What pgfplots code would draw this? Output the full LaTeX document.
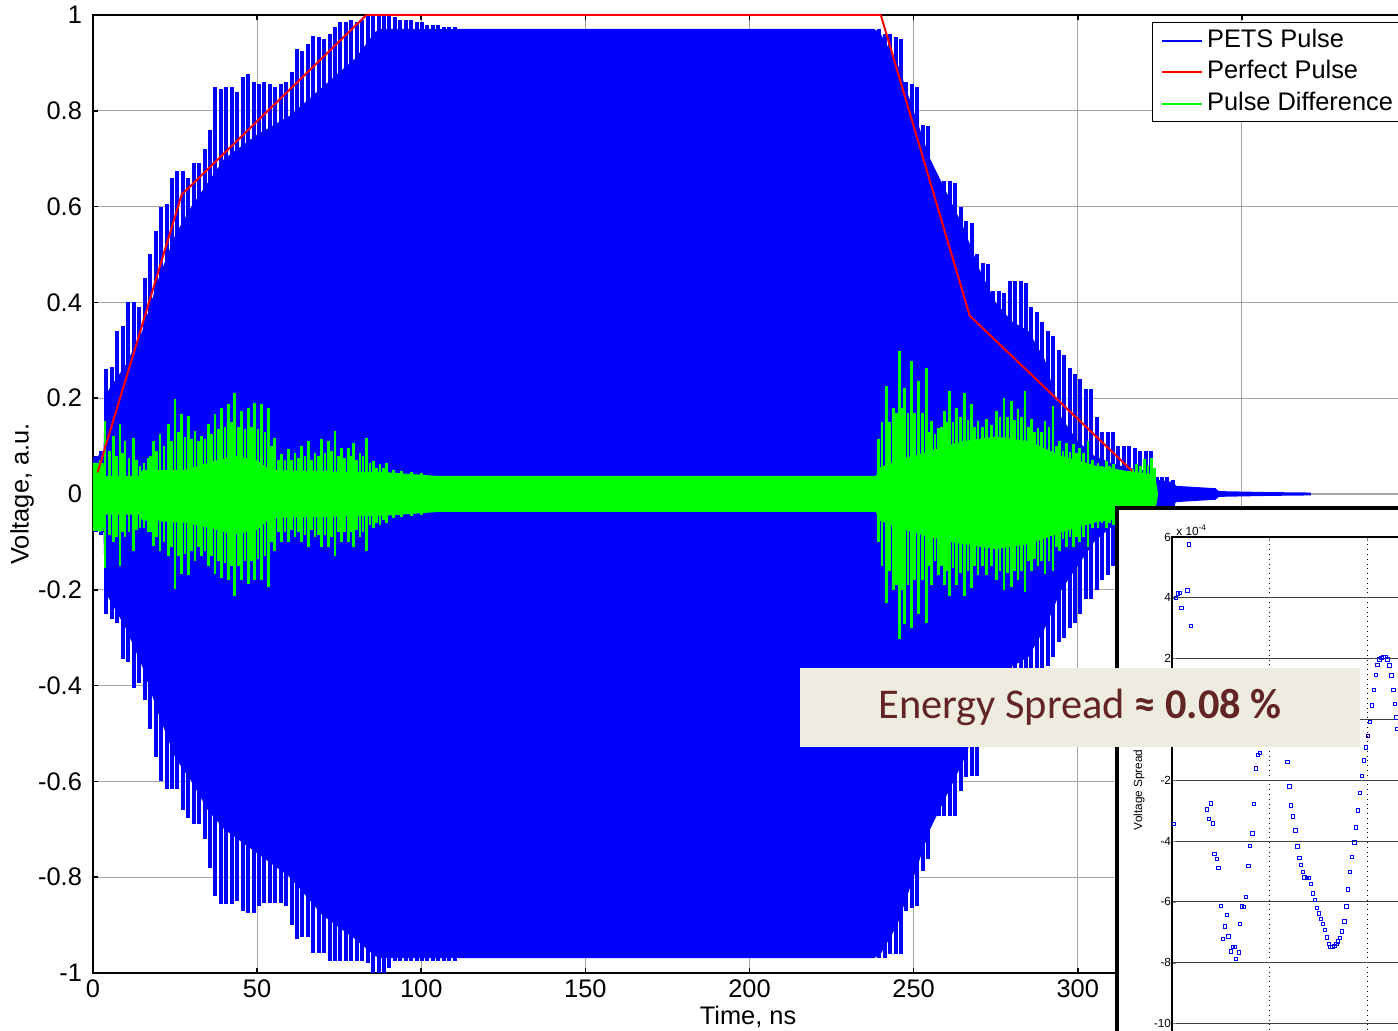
\documentclass[border=0pt]{standalone}
\usepackage{pgfplots}
\pgfplotsset{compat=1.18}
\usepackage{pgfplotstable}
\usepackage{fontspec}
\setmainfont{Liberation Sans}
\newfontfamily\carlito{Carlito}
\definecolor{boxbg}{RGB}{238,235,225}
\definecolor{boxtx}{RGB}{99,37,35}
\newcommand\mainfs{\fontsize{12.7}{15.2}\selectfont}
\newcommand\insfs{\fontsize{5.9}{7}\selectfont}

% blue body envelope
\pgfplotstableread{
x t b
0 0.075 -0.075
3.2 0.085 -0.08
3.6 0.20 -0.20
5 0.22 -0.22
10 0.27 -0.28
15 0.34 -0.36
20 0.45 -0.46
25 0.54 -0.55
30 0.60 -0.60
35 0.65 -0.66
40 0.70 -0.70
50 0.75 -0.75
60 0.79 -0.80
70 0.85 -0.88
80 0.91 -0.93
86 0.965 -0.965
88 0.971 -0.969
238 0.971 -0.969
240 0.96 -0.96
245 0.90 -0.90
250 0.80 -0.80
255 0.70 -0.70
260 0.63 -0.63
265 0.56 -0.56
270 0.47 -0.47
275 0.40 -0.40
280 0.36 -0.36
285 0.34 -0.34
290 0.28 -0.28
295 0.16 -0.20
300 0.11 -0.15
305 0.08 -0.10
310 0.065 -0.07
315 0.055 -0.055
320 0.05 -0.05
323.5 0.045 -0.045
324 0.03 -0.03
329 0.025 -0.025
330 0.017 -0.017
342 0.012 -0.012
343 0.006 -0.006
358 0.004 -0.004
371 0.003 -0.003
}\bbody

% blue spikes
\pgfplotstableread{
x t b
0.8 0.08 -0.08
2.5 0.09 -0.085
4.1 0.26 -0.25
5.8 0.265 -0.26
7.4 0.34 -0.27
9.1 0.35 -0.345
10.8 0.40 -0.35
12.4 0.40 -0.405
14.1 0.39 -0.395
15.7 0.45 -0.43
17.4 0.50 -0.49
19.1 0.55 -0.55
20.7 0.60 -0.60
22.4 0.605 -0.615
24.0 0.66 -0.615
25.7 0.674 -0.616
27.4 0.674 -0.66
29.0 0.66 -0.676
30.7 0.69 -0.69
32.3 0.69 -0.69
34.0 0.72 -0.72
35.6 0.76 -0.78
37.3 0.85 -0.84
39.0 0.845 -0.855
40.6 0.85 -0.857
42.3 0.85 -0.857
43.9 0.84 -0.85
45.6 0.87 -0.87
47.2 0.877 -0.874
48.9 0.86 -0.874
50.6 0.855 -0.86
52.2 0.86 -0.853
53.9 0.855 -0.853
55.5 0.85 -0.853
57.2 0.855 -0.853
58.8 0.86 -0.86
60.5 0.88 -0.90
62.1 0.93 -0.93
63.8 0.925 -0.925
65.5 0.94 -0.925
67.1 0.956 -0.958
68.8 0.955 -0.958
70.4 0.95 -0.958
72.1 0.96 -0.975
73.7 0.975 -0.975
75.4 0.985 -0.975
77.1 0.985 -0.975
78.7 0.99 -0.975
80.4 0.985 -0.975
82.0 0.99 -0.975
83.7 1.0 -0.98
85.3 1.0 -0.999
87.0 1.0 -0.999
88.7 1.0 -0.999
90.3 1.0 -0.99
92.0 0.995 -0.975
93.6 0.99 -0.975
95.3 0.99 -0.975
97.0 0.99 -0.975
98.6 0.985 -0.975
100.3 0.985 -0.975
101.9 0.98 -0.975
103.6 0.98 -0.975
105.2 0.98 -0.975
106.9 0.975 -0.975
108.6 0.975 -0.975
110.2 0.975 -0.975
239.5 0.971 -0.968
241.2 0.96 -0.968
242.8 0.96 -0.96
244.5 0.955 -0.96
246.1 0.95 -0.96
247.8 0.86 -0.871
249.5 0.856 -0.865
251.1 0.85 -0.86
252.8 0.77 -0.787
254.4 0.768 -0.763
256.1 0.66 -0.672
257.7 0.653 -0.672
259.4 0.653 -0.672
261.0 0.653 -0.672
262.7 0.65 -0.672
264.4 0.60 -0.62
266.0 0.57 -0.59
267.7 0.566 -0.589
269.3 0.50 -0.589
271.0 0.482 -0.50
272.6 0.48 -0.48
274.3 0.424 -0.43
275.9 0.424 -0.43
277.6 0.42 -0.42
279.3 0.445 -0.45
280.9 0.445 -0.45
282.6 0.445 -0.45
284.2 0.44 -0.44
285.9 0.39 -0.40
287.5 0.38 -0.38
289.2 0.36 -0.37
290.8 0.34 -0.36
292.5 0.33 -0.34
294.2 0.30 -0.31
295.8 0.29 -0.30
297.5 0.263 -0.28
299.1 0.25 -0.27
300.8 0.24 -0.25
302.4 0.22 -0.22
304.1 0.22 -0.22
305.8 0.16 -0.20
307.4 0.13 -0.18
309.1 0.13 -0.17
310.7 0.13 -0.15
312.4 0.10 -0.12
314.0 0.10 -0.11
315.7 0.10 -0.11
317.3 0.095 -0.10
319.0 0.09 -0.09
320.7 0.09 -0.09
322.3 0.09 -0.09
324.0 0.035 -0.035
325.6 0.035 -0.035
327.3 0.035 -0.035
328.9 0.03 -0.03
}\bspk

% green body envelope
\pgfplotstableread{
x t b
0 0.065 -0.077
3.2 0.065 -0.077
3.6 0.038 -0.043
14 0.038 -0.043
15 0.05 -0.055
28 0.05 -0.06
35 0.065 -0.07
43 0.08 -0.085
50 0.07 -0.075
54 0.05 -0.05
90 0.045 -0.045
105 0.0376 -0.0376
238.5 0.0376 -0.0376
239.5 0.055 -0.055
245 0.07 -0.07
255 0.09 -0.09
265 0.11 -0.105
275 0.12 -0.115
285 0.11 -0.105
295 0.08 -0.08
305 0.06 -0.06
315 0.048 -0.048
323.5 0.04 -0.04
324.5 0.0 0.0
}\gbody

% green spikes (tall)
\pgfplotstableread{
x t b
0.6 0.065 -0.077
3.65 0.152 -0.154
6.2 0.121 -0.10
8.2 0.146 -0.15
9.75 0.11 -0.09
12.3 0.117 -0.119
14.3 0.058 -0.07
16.8 0.075 -0.08
18.4 0.11 -0.108
20.4 0.125 -0.12
22.9 0.146 -0.13
25.0 0.198 -0.199
27.0 0.167 -0.167
29.0 0.163 -0.17
31.1 0.131 -0.14
33.1 0.121 -0.13
35.1 0.146 -0.15
37.2 0.167 -0.167
39.2 0.18 -0.175
41.2 0.188 -0.18
43.2 0.211 -0.213
45.3 0.173 -0.18
47.3 0.18 -0.188
49.3 0.19 -0.18
51.4 0.188 -0.18
53.4 0.18 -0.195
55.4 0.117 -0.12
57.5 0.083 -0.10
59.5 0.094 -0.10
61.5 0.086 -0.09
63.6 0.10 -0.10
65.6 0.11 -0.11
67.6 0.086 -0.09
69.7 0.115 -0.11
71.7 0.11 -0.11
73.7 0.131 -0.13
75.7 0.096 -0.10
77.8 0.096 -0.10
79.3 0.107 -0.11
81.3 0.086 -0.09
83.4 0.117 -0.119
85.4 0.069 -0.07
87.4 0.062 -0.065
89.5 0.065 -0.06
239.2 0.115 -0.10
241.7 0.225 -0.227
243.8 0.18 -0.20
245.8 0.299 -0.303
247.3 0.222 -0.272
249.3 0.278 -0.28
251.4 0.236 -0.25
253.9 0.263 -0.27
255.4 0.152 -0.19
257.5 0.138 -0.17
259.5 0.173 -0.19
261.0 0.215 -0.213
263.1 0.18 -0.19
265.6 0.211 -0.213
267.6 0.188 -0.196
269.6 0.152 -0.17
272.2 0.156 -0.17
275.2 0.173 -0.18
277.5 0.20 -0.20
279.8 0.194 -0.195
281.8 0.177 -0.18
283.9 0.215 -0.205
285.9 0.156 -0.16
287.9 0.138 -0.15
290.0 0.152 -0.168
292.5 0.184 -0.16
294.5 0.11 -0.12
296.6 0.107 -0.11
298.6 0.104 -0.11
300.6 0.097 -0.10
303.1 0.11 -0.11
306.2 0.065 -0.07
308.7 0.069 -0.07
310.8 0.062 -0.065
313.3 0.048 -0.05
315.8 0.048 -0.05
317.9 0.062 -0.06
320.4 0.073 -0.07
322.4 0.076 -0.07
}\gspk

% green spikes (intermediate, lower)
\pgfplotstableread{
x t b
2.1 0.07 -0.08
5.0 0.09 -0.085
7.2 0.08 -0.09
9.0 0.085 -0.08
11.0 0.075 -0.08
13.3 0.07 -0.075
15.5 0.065 -0.07
17.6 0.08 -0.08
19.4 0.09 -0.09
21.6 0.10 -0.10
24.0 0.11 -0.11
26.0 0.13 -0.13
28.0 0.12 -0.125
30.0 0.115 -0.12
32.1 0.11 -0.11
34.1 0.115 -0.12
36.2 0.125 -0.13
38.2 0.135 -0.14
40.2 0.14 -0.145
42.2 0.15 -0.15
44.3 0.14 -0.15
46.3 0.135 -0.14
48.3 0.14 -0.14
50.3 0.135 -0.135
52.4 0.13 -0.13
54.4 0.10 -0.10
56.5 0.07 -0.08
58.5 0.07 -0.08
60.5 0.07 -0.075
62.5 0.075 -0.08
64.6 0.08 -0.085
66.6 0.07 -0.075
68.7 0.08 -0.085
70.7 0.085 -0.085
72.7 0.09 -0.09
74.7 0.08 -0.08
76.7 0.075 -0.08
78.5 0.08 -0.08
80.3 0.07 -0.075
82.3 0.08 -0.08
84.4 0.065 -0.065
86.4 0.055 -0.06
88.4 0.055 -0.055
91.5 0.05 -0.05
94.0 0.048 -0.048
97.0 0.045 -0.045
100.0 0.043 -0.043
240.4 0.15 -0.15
242.7 0.15 -0.16
244.8 0.17 -0.19
246.5 0.18 -0.20
248.3 0.17 -0.19
250.3 0.17 -0.18
252.6 0.17 -0.18
254.6 0.13 -0.15
256.5 0.125 -0.14
258.5 0.14 -0.15
260.2 0.15 -0.16
262.0 0.15 -0.155
264.3 0.16 -0.165
266.6 0.155 -0.16
268.6 0.14 -0.15
270.9 0.14 -0.15
273.7 0.145 -0.15
276.3 0.16 -0.16
278.6 0.16 -0.165
280.8 0.155 -0.16
282.8 0.16 -0.16
284.9 0.14 -0.14
286.9 0.13 -0.135
289.0 0.13 -0.14
291.2 0.14 -0.14
293.5 0.10 -0.11
295.5 0.09 -0.095
297.6 0.088 -0.09
299.6 0.085 -0.09
301.8 0.085 -0.09
304.6 0.07 -0.07
307.4 0.058 -0.06
309.7 0.058 -0.06
312.0 0.052 -0.055
314.5 0.045 -0.048
316.8 0.052 -0.052
319.1 0.058 -0.058
321.4 0.06 -0.06
323.4 0.055 -0.05
}\gspkb

% inset: voltage spread (x 1e-4)
\pgfplotstableread{
u v
0.020 -3.43
0.041 3.99
0.058 4.15
0.082 4.17
0.096 3.67
0.157 4.24
0.174 5.76
0.195 3.07
0.355 -2.95
0.379 -3.27
0.396 -2.76
0.420 -3.42
0.433 -4.42
0.457 -4.59
0.474 -4.87
0.498 -6.12
0.522 -7.21
0.539 -6.80
0.560 -6.42
0.577 -7.13
0.601 -7.62
0.621 -7.48
0.645 -7.48
0.655 -7.88
0.683 -7.66
0.696 -6.72
0.717 -6.14
0.734 -6.17
0.758 -5.83
0.782 -4.82
0.799 -4.16
0.823 -3.74
0.836 -2.77
0.860 -1.61
0.877 -1.16
0.901 -1.10
1.164 -0.81
1.181 -1.40
1.201 -2.20
1.218 -2.82
1.239 -3.19
1.263 -3.64
1.283 -4.17
1.304 -4.56
1.321 -4.79
1.341 -5.02
1.355 -5.19
1.379 -5.21
1.403 -5.21
1.423 -5.40
1.440 -5.72
1.461 -5.93
1.481 -6.20
1.505 -6.38
1.526 -6.56
1.546 -6.72
1.567 -6.91
1.584 -7.17
1.604 -7.37
1.621 -7.48
1.642 -7.48
1.662 -7.45
1.683 -7.37
1.700 -7.29
1.720 -7.19
1.741 -6.97
1.765 -6.64
1.785 -6.14
1.802 -5.58
1.823 -5.02
1.843 -4.52
1.867 -4.04
1.884 -3.55
1.904 -2.99
1.922 -2.42
1.945 -1.85
1.962 -1.34
1.983 -0.92
2.003 -0.54
2.027 -0.07
2.048 0.46
2.065 0.98
2.085 1.46
2.102 1.79
2.123 1.97
2.143 2.03
2.164 2.05
2.184 2.05
2.205 1.97
2.225 1.78
2.246 1.45
2.266 0.98
2.283 0.51
2.297 0.07
2.307 -0.31
}\inset

\begin{document}
\begin{tikzpicture}
\begin{axis}[
  at={(0pt,0pt)}, anchor=south west,
  width=656.5pt, height=479pt, scale only axis,
  xmin=0, xmax=400, ymin=-1, ymax=1,
  xtick={0,50,100,150,200,250,300,350,400},
  ytick={-1,-0.8,-0.6,-0.4,-0.2,0,0.2,0.4,0.6,0.8,1},
  grid=major, major grid style={black!35, line width=0.6pt},
  tick align=inside, major tick length=2.5pt,
  every tick/.style={black, line width=0.8pt},
  axis line style={line width=0.9pt},
  clip=false,
  tick label style={font=\mainfs},
  /pgf/number format/assume math mode=true,
  yticklabel style={xshift=-2pt},
  xlabel={Time, ns}, ylabel={Voltage, a.u.},
  label style={font=\mainfs},
  xlabel style={at={(axis description cs:0.4989,-0.0459)}, anchor=center},
  ylabel style={at={(axis description cs:-0.0541,0.5)}, anchor=center},
  legend style={at={(axis description cs:0.8065,0.9927)}, anchor=north west,
    draw=black, line width=0.75pt, fill=white, font=\mainfs,
    inner xsep=4pt, inner ysep=2.75pt, row sep=3.25pt,
    nodes={inner xsep=2pt, inner ysep=0pt, text height=9.5pt, text depth=3pt}},
  legend cell align=left,
  legend image code/.code={\draw[#1] (0pt,0pt) -- (20pt,0pt);},
]
\addlegendimage{blue, line width=1.2pt}
\addlegendentry{PETS Pulse}
\addlegendimage{red, line width=1.2pt}
\addlegendentry{Perfect Pulse}
\addlegendimage{green, line width=1.2pt}
\addlegendentry{Pulse Difference}

\addplot[fill=blue, draw=none, forget plot] table[x=x,y=t]{\bbody} \closedcycle;
\addplot[fill=blue, draw=none, forget plot] table[x=x,y=b]{\bbody} \closedcycle;
\addplot[ycomb, mark=none, draw=blue, line width=2pt, forget plot] table[x=x,y=t]{\bspk};
\addplot[ycomb, mark=none, draw=blue, line width=2pt, forget plot] table[x=x,y=b]{\bspk};

\addplot[fill=green, draw=none, forget plot] table[x=x,y=t]{\gbody} \closedcycle;
\addplot[fill=green, draw=none, forget plot] table[x=x,y=b]{\gbody} \closedcycle;
\addplot[ycomb, mark=none, draw=green, line width=1.35pt, forget plot] table[x=x,y=t]{\gspkb};
\addplot[ycomb, mark=none, draw=green, line width=1.35pt, forget plot] table[x=x,y=b]{\gspkb};
\addplot[ycomb, mark=none, draw=green, line width=1.35pt, forget plot] table[x=x,y=t]{\gspk};
\addplot[ycomb, mark=none, draw=green, line width=1.35pt, forget plot] table[x=x,y=b]{\gspk};

\addplot[red, line width=1pt, mark=none, forget plot] coordinates {
(1.4,0.045) (27.0,0.625) (83.3,1.0) (240.0,1.0) (267.1,0.372) (316.6,0.048)};
\end{axis}

% inset window
\fill[white] (512pt,232.5pt) rectangle (720pt,-60pt);
\draw[black, line width=2.15pt] (512pt,-60pt) -- (512pt,232.5pt) -- (720pt,232.5pt);

\begin{axis}[
  at={(539.5pt,218pt)}, anchor=north west,
  width=146.5pt, height=258.5pt, scale only axis,
  xmin=0, xmax=3, ymin=-11, ymax=6,
  xtick={0,1,2,3}, xticklabels={},
  ytick={-10,-8,-6,-4,-2,0,2,4,6},
  ymajorgrids, xmajorgrids,
  y grid style={black!75, line width=0.5pt},
  x grid style={black, dotted, line width=0.45pt},
  tick align=inside, major tick length=2pt,
  axis line style={line width=0.8pt},
  clip=false,
  tick label style={font=\insfs},
  /pgf/number format/assume math mode=true,
  yticklabel style={inner sep=0.3pt},
  ylabel={Voltage Spread}, label style={font=\insfs},
  ylabel style={at={(axis description cs:-0.1126,0.511)}, anchor=center},
]
\addplot[only marks, mark=square, mark size=0.85pt, blue, line width=0.35pt] table[x=u,y=v]{\inset};
\node[anchor=south west, inner sep=0.5pt, font=\insfs] at (rel axis cs:0.01,1) {x 10\textsuperscript{-4}};
\end{axis}

\node[fill=boxbg, minimum width=280pt, minimum height=39.5pt, inner sep=0pt,
  text=boxtx, font=\carlito\fontsize{21.2}{25}\selectfont]
  at (493.5pt,132.75pt) {Energy Spread \textbf{≈ 0.08 \%}};

\pgfresetboundingbox
\useasboundingbox (-46.5pt,-29pt) rectangle (652.5pt,486.5pt);
\end{tikzpicture}
\end{document}
